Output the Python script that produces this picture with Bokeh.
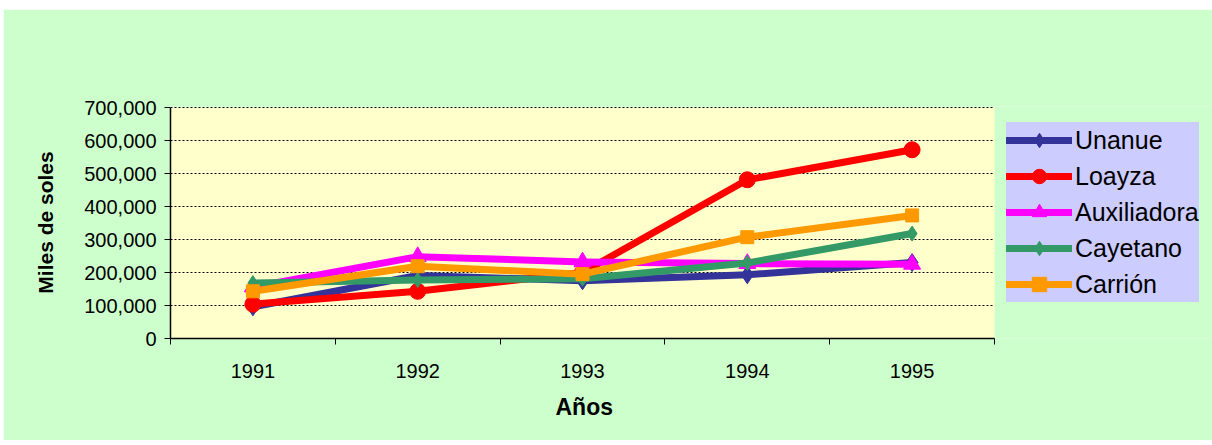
import numpy as np
from bokeh.plotting import figure
from bokeh.models import (FixedTicker, NumeralTickFormatter, Legend, LegendItem, Range1d,
                          BoxAnnotation, Title)
from bokeh.embed import file_html
from bokeh.resources import INLINE

years = ["1991", "1992", "1993", "1994", "1995"]
unanue = [96000, 191000, 175000, 193000, 230000]
loayza = [104000, 143000, 200000, 481000, 572000]
auxiliadora = [156000, 248000, 232000, 227000, 225000]
cayetano = [168000, 177000, 181000, 229000, 318000]
carrion = [143000, 219000, 195000, 307000, 373000]
y_ticks = [0, 100000, 200000, 300000, 400000, 500000, 600000, 700000]

FONT = "Liberation Sans"
n = len(years)
x = list(range(1, n + 1))
x_lo, x_hi = 0.5, n + 0.5
y_top = y_ticks[-1]
# plot area spans 824 px for the 5 categories; frame extends further right to hold the legend
frame_w = 1209 - 167
x_end = x_lo + frame_w * (x_hi - x_lo) / 824.0
y_end = y_top * 232.0 / 231.0  # 1px headroom so the top gridline is not clipped

p = figure(width=1209, height=431, output_backend="svg", toolbar_location=None,
           x_range=Range1d(x_lo, x_end), y_range=Range1d(0, y_end),
           min_border_left=167, min_border_right=0, min_border_top=97, min_border_bottom=102)
p.margin = (9, 0, 0, 3)
p.border_fill_color = "#CCFFCC"
p.background_fill_color = "#CCFFCC"
p.outline_line_color = None

p.add_layout(BoxAnnotation(left=x_lo, right=x_hi, bottom=0, top=y_top,
                           fill_color="#FFFFCC", fill_alpha=1, line_color=None, level="underlay"))

# gridlines limited to the plot area
p.xgrid.grid_line_color = None
p.ygrid.grid_line_color = None
p.segment(x0=[x_lo] * len(y_ticks), x1=[x_hi] * len(y_ticks), y0=y_ticks, y1=y_ticks,
          line_color="black", line_dash="2 2", line_width=1)

# axes
p.xaxis.bounds = (x_lo, x_hi)
p.xaxis.ticker = FixedTicker(ticks=x, minor_ticks=[i + 0.5 for i in range(0, n + 1)])
p.xaxis.major_label_overrides = {xi: y for xi, y in zip(x, years)}
p.xaxis.major_tick_out = 0
p.xaxis.major_tick_in = 0
p.xaxis.minor_tick_out = 6
p.xaxis.minor_tick_in = 0
p.xaxis.minor_tick_line_color = "black"
p.xaxis.major_label_standoff = 19

p.yaxis.bounds = (0, y_top)
p.yaxis.ticker = FixedTicker(ticks=y_ticks)
p.yaxis.formatter = NumeralTickFormatter(format="0,0")
p.yaxis.major_tick_out = 6
p.yaxis.major_tick_in = 0
p.yaxis.minor_tick_line_color = None
p.yaxis.major_label_standoff = 8
p.yaxis.axis_label = "Miles de soles"
p.yaxis.axis_label_standoff = 24

for ax in (p.xaxis, p.yaxis):
    ax.axis_line_color = "black"
    ax.axis_line_width = 1.5
    ax.major_tick_line_color = "black"
    ax.major_label_text_font = FONT
    ax.major_label_text_font_size = "20px"
    ax.major_label_text_color = "black"
    ax.axis_label_text_font = FONT
    ax.axis_label_text_font_style = "bold"
    ax.axis_label_text_color = "black"
p.yaxis.axis_label_text_font_size = "21px"

# x-axis title, centred under the plot area (not the whole frame)
xtitle = Title(text="Años", align="left", offset=385, standoff=22,
               text_font=FONT, text_font_size="23px", text_font_style="bold", text_color="black")
p.add_layout(xtitle, "below")

series = [
    ("Unanue", unanue, "#333399", "diamond", 18),
    ("Loayza", loayza, "#FF0000", "circle", 16),
    ("Auxiliadora", auxiliadora, "#FF00FF", "triangle", 17),
    ("Cayetano", cayetano, "#339966", "diamond", 15),
    ("Carrión", carrion, "#FF9900", "square", 13),
]

items = []
for name, vals, col, mk, sz in series:
    lr = p.line(x, vals, line_color=col, line_width=7, line_join="round", line_cap="round")
    sr = p.scatter(x, vals, marker=mk, size=sz, fill_color=col, line_color=col)
    items.append(LegendItem(label=name, renderers=[lr, sr]))

legend = Legend(items=items, location=(836, 36), orientation="vertical")
legend.background_fill_color = "#CCCCFF"
legend.background_fill_alpha = 1
legend.border_line_color = None
legend.label_text_font = FONT
legend.label_text_font_size = "25px"
legend.label_text_color = "black"
legend.glyph_width = 66
legend.glyph_height = 36
legend.spacing = 0
legend.padding = 0
legend.margin = 0
legend.label_standoff = 3
legend.label_height = 36
p.add_layout(legend, "center")

open("out.html", "w").write(file_html(p, INLINE))
